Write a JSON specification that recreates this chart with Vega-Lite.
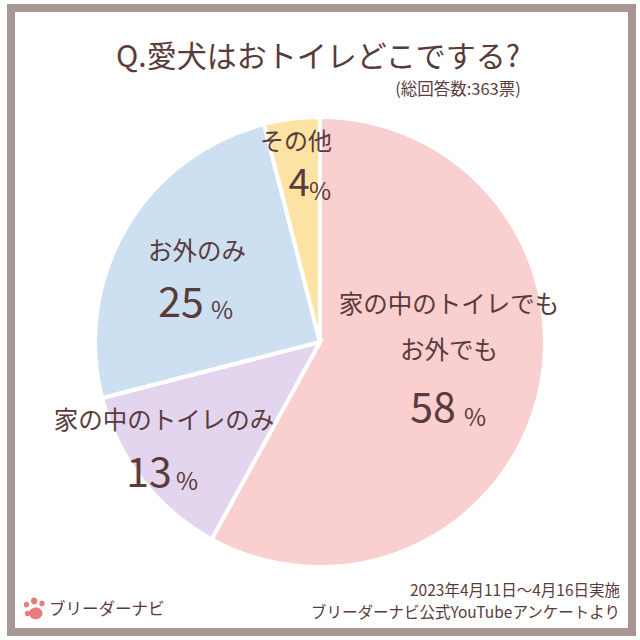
{"$schema":"https://vega.github.io/schema/vega-lite/v6.json","autosize":{"type":"fit","contains":"padding"},"width":640,"height":640,"padding":{"left":11,"right":8,"top":8,"bottom":8},"background":"white","view":{"stroke":"#a89797","strokeWidth":8,"fill":"white"},"config":{"text":{"font":"Noto Sans CJK JP","color":"#5a3b3b","baseline":"middle","align":"center","fontSize":24.5}},"data":{"values":[{"category":"家の中のトイレでもお外でも","value":58,"rank":1},{"category":"家の中のトイレのみ","value":13,"rank":2},{"category":"お外のみ","value":25,"rank":3},{"category":"その他","value":4,"rank":4}]},"layer":[{"mark":{"type":"arc","radius":225,"stroke":"white","strokeWidth":4,"xOffset":-1.5,"yOffset":22},"encoding":{"theta":{"field":"value","type":"quantitative","stack":true},"order":{"field":"rank","type":"quantitative"},"color":{"field":"category","type":"nominal","legend":null,"scale":{"domain":["家の中のトイレでもお外でも","家の中のトイレのみ","お外のみ","その他"],"range":["#f9cfcf","#e4d5ef","#cde0f2","#fce3a4"]}}}},{"data":{"values":[{"t":"Q.愛犬はおトイレどこでする?"}]},"mark":{"type":"text","fontSize":30,"dx":-3.5,"dy":-262},"encoding":{"text":{"field":"t"}}},{"data":{"values":[{"t":"(総回答数:363票)"}]},"mark":{"type":"text","fontSize":16.5,"dx":136.5,"dy":-230},"encoding":{"text":{"field":"t"}}},{"data":{"values":[{"t":"家の中のトイレでも"}]},"mark":{"type":"text","dx":127.5,"dy":-14},"encoding":{"text":{"field":"t"}}},{"data":{"values":[{"t":"お外でも"}]},"mark":{"type":"text","dx":127.5,"dy":32},"encoding":{"text":{"field":"t"}}},{"data":{"values":[{"t":"58"}]},"mark":{"type":"text","fontSize":41,"dx":111.5,"dy":90},"encoding":{"text":{"field":"t"}}},{"data":{"values":[{"t":"%"}]},"mark":{"type":"text","fontSize":24,"dx":153.5,"dy":99},"encoding":{"text":{"field":"t"}}},{"data":{"values":[{"t":"家の中のトイレのみ"}]},"mark":{"type":"text","dx":-157.5,"dy":102},"encoding":{"text":{"field":"t"}}},{"data":{"values":[{"t":"13"}]},"mark":{"type":"text","fontSize":41,"dx":-172.5,"dy":155},"encoding":{"text":{"field":"t"}}},{"data":{"values":[{"t":"%"}]},"mark":{"type":"text","fontSize":24,"dx":-134.5,"dy":163},"encoding":{"text":{"field":"t"}}},{"data":{"values":[{"t":"お外のみ"}]},"mark":{"type":"text","dx":-124.5,"dy":-67},"encoding":{"text":{"field":"t"}}},{"data":{"values":[{"t":"25"}]},"mark":{"type":"text","fontSize":41,"dx":-140.5,"dy":-15},"encoding":{"text":{"field":"t"}}},{"data":{"values":[{"t":"%"}]},"mark":{"type":"text","fontSize":24,"dx":-99.5,"dy":-8},"encoding":{"text":{"field":"t"}}},{"data":{"values":[{"t":"その他"}]},"mark":{"type":"text","fontSize":24,"dx":-25.5,"dy":-177},"encoding":{"text":{"field":"t"}}},{"data":{"values":[{"t":"4"}]},"mark":{"type":"text","fontSize":38,"dx":-22.5,"dy":-135},"encoding":{"text":{"field":"t"}}},{"data":{"values":[{"t":"%"}]},"mark":{"type":"text","fontSize":24,"dx":-1.5,"dy":-127},"encoding":{"text":{"field":"t"}}},{"data":{"values":[{"t":"2023年4月11日〜4月16日実施"}]},"mark":{"type":"text","fontSize":15.5,"align":"right","dx":298.5,"dy":271},"encoding":{"text":{"field":"t"}}},{"data":{"values":[{"t":"ブリーダーナビ公式YouTubeアンケートより"}]},"mark":{"type":"text","fontSize":15.5,"align":"right","dx":298.5,"dy":293},"encoding":{"text":{"field":"t"}}},{"data":{"values":[{"t":"ブリーダーナビ"}]},"mark":{"type":"text","fontSize":16.5,"align":"left","dx":-272.5,"dy":290},"encoding":{"text":{"field":"t"}}},{"data":{"values":[{"t":"logo"}]},"mark":{"type":"point","filled":true,"opacity":1,"color":"#e87b7b","size":460,"xOffset":-287,"yOffset":288.5,"shape":"M-.9 .47a.25 .25 0 1 0 .5 0a.25 .25 0 1 0 -.5 0ZM-1 -.37a.25 .27 0 1 0 .5 0a.25 .27 0 1 0 -.5 0ZM-.33 -.7a.3 .32 0 1 0 .6 0a.3 .32 0 1 0 -.6 0ZM.45 -.47a.25 .27 0 1 0 .5 0a.25 .27 0 1 0 -.5 0ZM-.5 .45a.62 .55 0 1 0 1.24 0a.62 .55 0 1 0 -1.24 0Z"},"encoding":{}}]}
